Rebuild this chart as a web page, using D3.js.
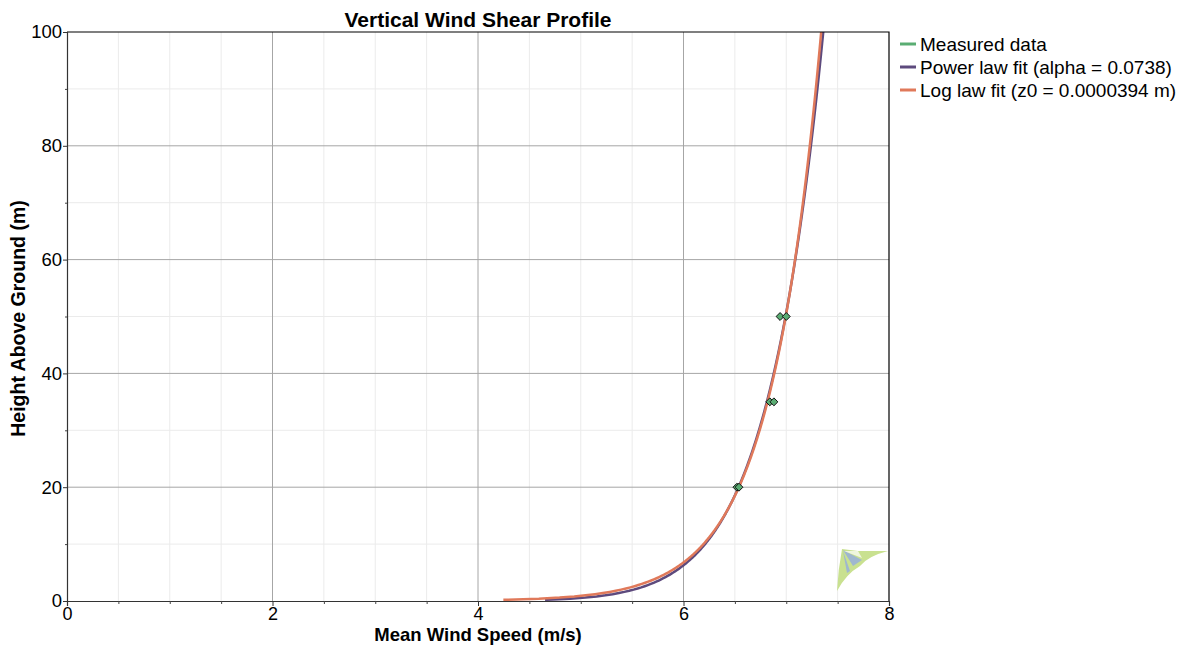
<!DOCTYPE html>
<html>
<head>
<meta charset="utf-8">
<script src="https://cdn.jsdelivr.net/npm/d3@7"></script>
<style>
  html, body { margin: 0; padding: 0; background: #fff; }
  svg { display: block; font-family: "Liberation Sans", Arial, sans-serif; }
</style>
</head>
<body>
<svg id="chart" width="1185" height="645"></svg>
<script>
// Measured mean wind speeds: two sensors at each height
const measuredHeights = [20, 20, 35, 35, 50, 50];
const measuredSpeeds  = [6.52, 6.54, 6.84, 6.88, 6.94, 7.00];

// Fit parameters (as reported in the legend) and fitted speed at 100 m
const alpha = 0.0738;
const z0 = 0.0000394;
const powerRefSpeed = 7.36;
const logRefSpeed = 7.34;
const refHeight = 100;

// Heights at which the fitted profiles are evaluated
const fitHeights = d3.range(0.2, 101, 0.2);

const xTicks = [0, 2, 4, 6, 8];
const yTicks = [0, 20, 40, 60, 80, 100];
const legendLabels = [
  "Measured data",
  "Power law fit (alpha = 0.0738)",
  "Log law fit (z0 = 0.0000394 m)"
];
const seriesColors = ["#5aad73", "#5d4a7d", "#e0795a"];

const svg = d3.select("#chart");
const margin = { left: 67, right: 889, top: 32, bottom: 601 };

const x = d3.scaleLinear().domain([0, 8]).range([margin.left, margin.right]);
const y = d3.scaleLinear().domain([0, 100]).range([margin.bottom, margin.top]);

const powerLaw = fitHeights.map(z => ({ z, u: powerRefSpeed * Math.pow(z / refHeight, alpha) }));
const logLaw = fitHeights.map(z => ({ z, u: logRefSpeed * Math.log(z / z0) / Math.log(refHeight / z0) }));

svg.append("defs").append("clipPath").attr("id", "plotClip")
  .append("rect")
  .attr("x", margin.left).attr("y", margin.top)
  .attr("width", margin.right - margin.left)
  .attr("height", margin.bottom - margin.top);

// Minor grid
const grid = svg.append("g");
grid.selectAll(".vminor").data(d3.range(0.5, 8, 0.5).filter(v => v % 2 !== 0))
  .join("line")
  .attr("x1", d => x(d)).attr("x2", d => x(d))
  .attr("y1", margin.top).attr("y2", margin.bottom)
  .attr("stroke", "#ebebeb").attr("stroke-width", 1);
grid.selectAll(".hminor").data(d3.range(10, 100, 20))
  .join("line")
  .attr("x1", margin.left).attr("x2", margin.right)
  .attr("y1", d => y(d)).attr("y2", d => y(d))
  .attr("stroke", "#ebebeb").attr("stroke-width", 1);

// Major grid
grid.selectAll(".vmajor").data(xTicks.slice(1, -1))
  .join("line")
  .attr("x1", d => x(d)).attr("x2", d => x(d))
  .attr("y1", margin.top).attr("y2", margin.bottom)
  .attr("stroke", "#a6a6a6").attr("stroke-width", 1);
grid.selectAll(".hmajor").data(yTicks.slice(1, -1))
  .join("line")
  .attr("x1", margin.left).attr("x2", margin.right)
  .attr("y1", d => y(d)).attr("y2", d => y(d))
  .attr("stroke", "#a6a6a6").attr("stroke-width", 1);

// Logo mark in the lower-right corner
const logo = svg.append("g").attr("clip-path", "url(#plotClip)");
logo.append("path")
  .attr("d", "M842,549 L858,551 L888,551 Q868,556 860,566 Q846,574 837,591 Q838,570 842,549 Z")
  .attr("fill", "#c9e190");
logo.append("path")
  .attr("d", "M843,550 L862,560 L853,566 Z")
  .attr("fill", "#9fb7cf");
logo.append("path")
  .attr("d", "M843,551 L850,571 L847,573 Z")
  .attr("fill", "#9fb7cf");
logo.append("path")
  .attr("d", "M844,551 L858,551 L862,558 Z")
  .attr("fill", "#ffffff").attr("opacity", 0.7);

// Fitted profiles
const line = d3.line().x(d => x(d.u)).y(d => y(d.z));
const curves = svg.append("g").attr("clip-path", "url(#plotClip)");
curves.append("path").datum(powerLaw)
  .attr("d", line).attr("fill", "none")
  .attr("stroke", seriesColors[1]).attr("stroke-width", 2.5);
curves.append("path").datum(logLaw)
  .attr("d", line).attr("fill", "none")
  .attr("stroke", seriesColors[2]).attr("stroke-width", 2.5);

// Measured points (diamonds)
const diamond = d3.symbol().type(d3.symbolDiamond2).size(40);
svg.append("g").selectAll("path")
  .data(measuredHeights.map((h, i) => ({ h, u: measuredSpeeds[i] })))
  .join("path")
  .attr("transform", d => `translate(${x(d.u)},${y(d.h)})`)
  .attr("d", diamond)
  .attr("fill", seriesColors[0])
  .attr("stroke", "#111").attr("stroke-width", 1);

// Plot frame (top and right)
svg.append("path")
  .attr("d", `M${margin.left},${margin.top}H${margin.right}V${margin.bottom}`)
  .attr("fill", "none").attr("stroke", "#000").attr("stroke-width", 1.2);

// Axes
const xAxis = svg.append("g").attr("transform", `translate(0,${margin.bottom})`)
  .call(d3.axisBottom(x).tickValues(xTicks).tickFormat(d3.format("d")).tickSize(5).tickPadding(1));
svg.append("g").attr("transform", `translate(0,${margin.bottom})`)
  .call(d3.axisBottom(x).tickValues(d3.range(0.5, 8, 0.5).filter(v => v % 2 !== 0)).tickFormat("").tickSize(3))
  .call(g => g.select(".domain").remove())
  .selectAll("line").attr("stroke", "#444");
const yAxis = svg.append("g").attr("transform", `translate(${margin.left},0)`)
  .call(d3.axisLeft(y).tickValues(yTicks).tickFormat(d3.format("d")).tickSize(4).tickPadding(1));
svg.append("g").attr("transform", `translate(${margin.left},0)`)
  .call(d3.axisLeft(y).tickValues(d3.range(10, 100, 20)).tickFormat("").tickSize(2))
  .call(g => g.select(".domain").remove())
  .selectAll("line").attr("stroke", "#444");

[xAxis, yAxis].forEach(g => {
  g.select(".domain").attr("stroke", "#333").attr("stroke-width", 1.2);
  g.selectAll(".tick line").attr("stroke", "#333");
  g.selectAll(".tick text").attr("font-size", 18.5).attr("fill", "#000")
    .attr("font-family", "Liberation Sans, Arial, sans-serif");
});
xAxis.selectAll(".tick text").attr("font-size", 18).attr("dy", "0.7em");

// Titles
svg.append("text")
  .attr("x", (margin.left + margin.right) / 2).attr("y", 27)
  .attr("text-anchor", "middle").attr("font-size", 21).attr("font-weight", "bold")
  .text("Vertical Wind Shear Profile");
svg.append("text")
  .attr("x", (margin.left + margin.right) / 2).attr("y", 640.5)
  .attr("text-anchor", "middle").attr("font-size", 18.5).attr("font-weight", "bold")
  .text("Mean Wind Speed (m/s)");
svg.append("text")
  .attr("transform", `translate(25,${(margin.top + margin.bottom) / 2 + 2}) rotate(-90)`)
  .attr("text-anchor", "middle").attr("font-size", 19.5).attr("font-weight", "bold")
  .text("Height Above Ground (m)");

// Legend
const legend = svg.append("g").attr("transform", "translate(900,44)");
const rows = legend.selectAll("g").data(legendLabels).join("g")
  .attr("transform", (d, i) => `translate(0,${i * 23})`);
rows.append("line")
  .attr("x1", 0).attr("x2", 16).attr("y1", 0).attr("y2", 0)
  .attr("stroke", (d, i) => seriesColors[i]).attr("stroke-width", 3);
rows.append("text")
  .attr("x", 20).attr("y", 7)
  .attr("font-size", 19).attr("fill", "#000")
  .text(d => d);
</script>
</body>
</html>
